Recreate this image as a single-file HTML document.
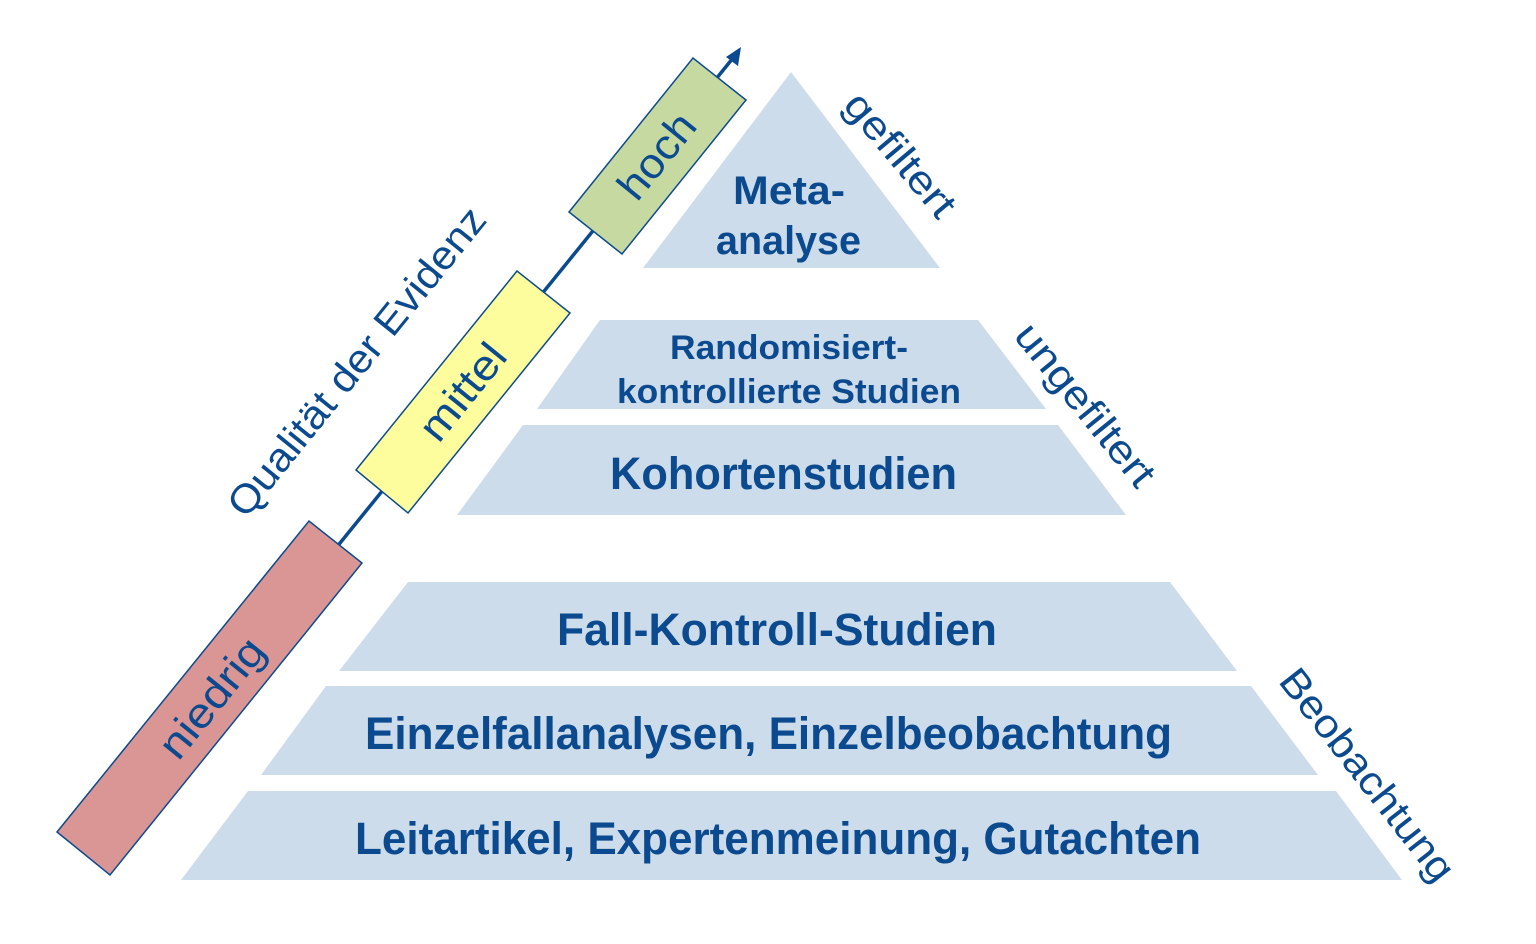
<!DOCTYPE html>
<html><head><meta charset="utf-8"><style>html,body{margin:0;padding:0;background:#fff}svg{display:block}</style></head>
<body>
<svg width="1536" height="944" viewBox="0 0 1536 944" xmlns="http://www.w3.org/2000/svg" font-family="Liberation Sans, sans-serif">
<g fill="#cddcea">
<polygon points="791,72 940,268 643,268"/>
<polygon points="600,320 978,320 1046,409 537,409"/>
<polygon points="523,425 1058,425 1126,515 457,515"/>
<polygon points="408,582 1170,582 1237,671 339,671"/>
<polygon points="326,686 1251,686 1318,775 261,775"/>
<polygon points="248,791 1336,791 1402,880 181,880"/>
</g>
<g fill="#0b4a8f" font-weight="bold" text-anchor="start">
<text x="733" y="204" font-size="40" textLength="112" lengthAdjust="spacingAndGlyphs">Meta-</text>
<text x="716" y="254" font-size="40" textLength="145" lengthAdjust="spacingAndGlyphs">analyse</text>
<text x="670" y="359" font-size="34" textLength="238" lengthAdjust="spacingAndGlyphs">Randomisiert-</text>
<text x="617" y="403" font-size="34" textLength="344" lengthAdjust="spacingAndGlyphs">kontrollierte Studien</text>
<text x="610" y="489" font-size="45" textLength="347" lengthAdjust="spacingAndGlyphs">Kohortenstudien</text>
<text x="557" y="645" font-size="45" textLength="440" lengthAdjust="spacingAndGlyphs">Fall-Kontroll-Studien</text>
<text x="365" y="749" font-size="45" textLength="807" lengthAdjust="spacingAndGlyphs">Einzelfallanalysen, Einzelbeobachtung</text>
<text x="355" y="854" font-size="45" textLength="846" lengthAdjust="spacingAndGlyphs">Leitartikel, Expertenmeinung, Gutachten</text>
</g>
<line x1="336" y1="548" x2="733" y2="58" stroke="#0b4a8f" stroke-width="3.5"/>
<polygon points="741,47 726,57 738,66" fill="#0b4a8f"/>
<g stroke="#0b4a8f" stroke-width="1.5">
<polygon points="569,212 693,58 746,100 622,254" fill="#c6d9a0"/>
<polygon points="356,470 517,271 570,313 408,513" fill="#fdfd9d"/>
<polygon points="57,832 309,521 362,563 110,875" fill="#d99694"/>
</g>
<g fill="#0b4a8f" text-anchor="middle" font-size="42">
<text transform="translate(657,156) rotate(-51)" y="14" textLength="98" lengthAdjust="spacingAndGlyphs">hoch</text>
<text transform="translate(463,392) rotate(-51)" y="14" textLength="112" lengthAdjust="spacingAndGlyphs">mittel</text>
<text transform="translate(212,698) rotate(-51)" y="14" textLength="142" lengthAdjust="spacingAndGlyphs">niedrig</text>
<text transform="translate(357,362) rotate(-51)" y="13" font-size="40" textLength="385" lengthAdjust="spacingAndGlyphs">Qualität der Evidenz</text>
<text transform="translate(900,155) rotate(50)" y="13" font-size="40" textLength="150" lengthAdjust="spacingAndGlyphs">gefiltert</text>
<text transform="translate(1085,405) rotate(51)" y="13" font-size="40" textLength="198" lengthAdjust="spacingAndGlyphs">ungefiltert</text>
<text transform="translate(1367,775) rotate(52)" y="13" font-size="40" textLength="258" lengthAdjust="spacingAndGlyphs">Beobachtung</text>
</g>
</svg>
</body></html>
